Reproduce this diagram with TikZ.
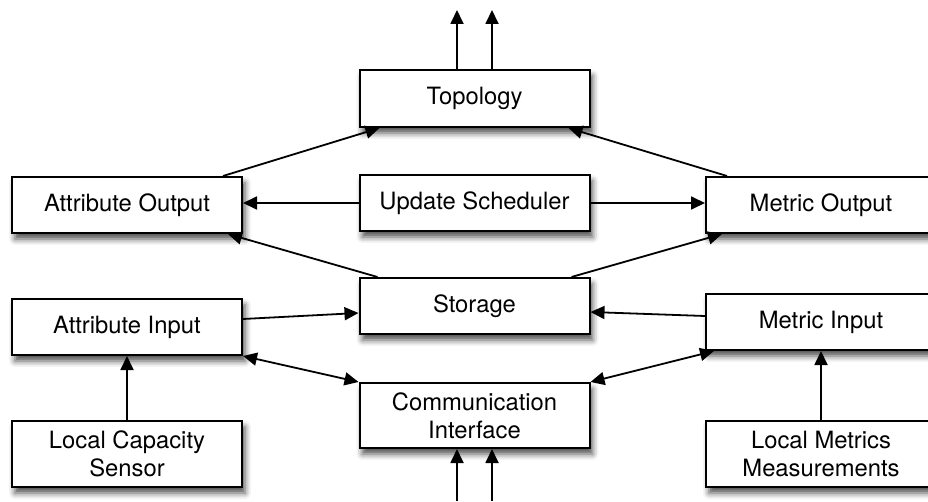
\documentclass[tikz,border=0pt]{standalone}
\usepackage{fontspec}
\setmainfont{TeX Gyre Heros}
\usetikzlibrary{arrows.meta,shadows.blur}

\tikzset{
  block/.style={draw=black, line width=2pt, fill=white, inner sep=0pt,
    minimum width=230pt, minimum height=56pt, align=center,
    font=\fontsize{23.8}{28}\selectfont,
    blur shadow={shadow xshift=3pt, shadow yshift=-6pt,
      shadow blur radius=6pt, shadow opacity=70}},
  tall/.style={minimum height=66pt},
  flow/.style={line width=1.8pt, -{Triangle[length=14pt,width=13pt]}},
  both/.style={line width=1.8pt, {Triangle[length=14pt,width=13pt]}-{Triangle[length=14pt,width=13pt]}}
}

\begin{document}
\begin{tikzpicture}[x=1pt,y=1pt]
  \useasboundingbox (0,0) rectangle (928,501);

  % centre column
  \node[block, minimum height=57pt] (topo)  at (474.5,402.5) {Topology};
  \node[block] (sched) at (474.5,298) {Update Scheduler};
  \node[block] (store) at (474.5,195) {Storage};
  \node[block, minimum height=65pt] (comm) at (474.5,85.5) {Communication\\Interface};

  % left column
  \node[block] (aout) at (127,296) {Attribute Output};
  \node[block] (ain)  at (127,174) {Attribute Input};
  \node[block, tall] (lcs) at (127,47) {Local Capacity\\Sensor};

  % right column
  \node[block] (mout) at (821,296) {Metric Output};
  \node[block] (min)  at (821,179) {Metric Input};
  \node[block, tall] (lmm) at (821,47) {Local Metrics\\Measurements};

  % free ends of the external links
  \coordinate (up1) at (457,491);
  \coordinate (up2) at (492,491);
  \coordinate (in1) at (457,0);
  \coordinate (in2) at (492,0);

  % outputs feeding the topology
  \draw[flow] ([xshift=-20pt]aout.north east) -- ([xshift=21pt]topo.south west);
  \draw[flow] ([xshift=22pt]mout.north west) -- ([xshift=-22pt]topo.south east);
  \draw[flow] ([xshift=-17.5pt]topo.north) -- (up1);
  \draw[flow] ([xshift=17.5pt]topo.north) -- (up2);

  % scheduler
  \draw[flow] (sched.west) -- (aout.east |- sched.west);
  \draw[flow] (sched.east) -- (mout.west |- sched.east);

  % storage to outputs
  \draw[flow] ([xshift=19pt]store.north west) -- ([xshift=-15pt]aout.south east);
  \draw[flow] ([xshift=-19pt]store.north east) -- ([xshift=17pt]mout.south west);

  % inputs to storage
  \draw[flow] ([yshift=8pt]ain.east) -- ([yshift=-7pt]store.west);
  \draw[flow] ([yshift=6pt]min.west) -- ([yshift=-6pt]store.east);

  % inputs and communication interface
  \draw[both] (ain.south east) -- (comm.north west);
  \draw[both] ([xshift=9pt]min.south west) -- (comm.north east);

  % sensors
  \draw[flow] (lcs.north) -- (ain.south);
  \draw[flow] (lmm.north) -- (min.south);

  % incoming links
  \draw[flow] (in1) -- ([xshift=-17.5pt]comm.south);
  \draw[flow] (in2) -- ([xshift=17.5pt]comm.south);
\end{tikzpicture}
\end{document}
